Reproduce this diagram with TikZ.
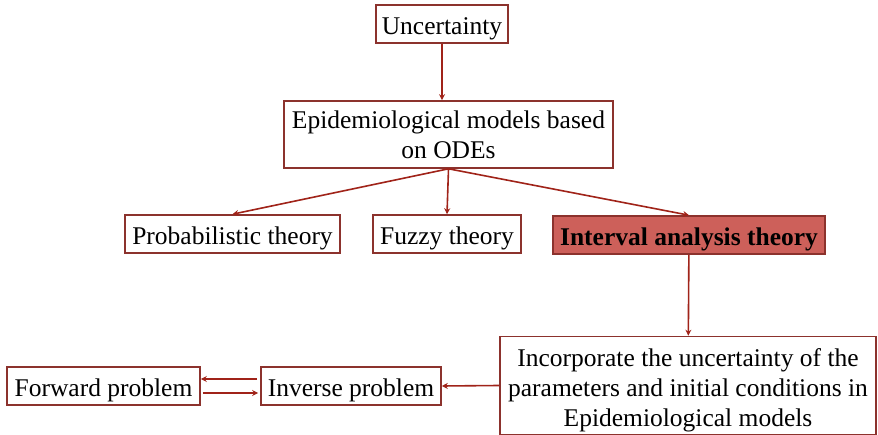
\documentclass[tikz,border=0pt]{standalone}
\usepackage{fontspec}
\setmainfont{Liberation Serif}
\usepackage{xcolor}
\usepackage{tikz}
\usetikzlibrary{
  positioning,
  arrows.meta
}
\definecolor{boxred}{RGB}{140,50,45}
\definecolor{arrred}{RGB}{160,35,25}
\definecolor{hifill}{RGB}{205,96,90}
% lower the text a little, keep the box where it is
\newcommand{\lowtext}[1]{\raisebox{-4.5pt}[\height][\depth]{#1}}

\begin{document}
\begin{tikzpicture}[
  x=1pt, y=1pt,
  >={Stealth[length=6pt,width=6pt]},
  font=\fontsize{25.5}{30}\selectfont,
  box/.style={draw=boxred, line width=1.6pt, fill=white, inner sep=0pt,
    minimum height=38pt},
  link/.style={->, draw=arrred, line width=1.6pt}
]
  \useasboundingbox (0,0) rectangle (878,-435);
  % top of the tree
  \node[box, minimum width=132pt] (unc) at (442,-24) {\lowtext{Uncertainty}};
  \node[box, minimum width=329pt, minimum height=67pt, align=center]
    (epi) at (448.5,-134.5) {Epidemiological models based\\on ODEs};
  % the three theories
  \node[box, minimum width=215pt] (prob) at (232.5,-234) {\lowtext{Probabilistic theory}};
  \node[box, minimum width=148pt] (fuzzy) at (447,-234) {\lowtext{Fuzzy theory}};
  \node[box, fill=hifill, minimum width=272pt, font=\fontsize{25.5}{30}\selectfont\bfseries]
    (intv) at (689,-235) {\lowtext{Interval analysis theory}};
  % bottom row
  \node[box, minimum width=376pt, minimum height=98pt]
    (incorp) at (688,-385.5)
    {\lowtext{\begin{tabular}{@{}c@{}}Incorporate the uncertainty of the\\
      parameters and initial conditions in\\Epidemiological models\end{tabular}}};
  \node[box, minimum width=180pt] (inv) at (351,-386) {\lowtext{Inverse problem}};
  \node[box, minimum width=193pt] (fwd) at (103.5,-386) {\lowtext{Forward problem}};

  \draw[link] (unc.south) -- (unc.south |- epi.north);
  \draw[link] (epi.south) -- (prob.north);
  \draw[link] (epi.south) -- (fuzzy.north);
  \draw[link] (epi.south) -- (intv.north);
  \draw[link] (intv) -- (incorp);
  \draw[link] (incorp.west) -- (inv.east);
  \draw[link, shorten <=3pt] ([yshift=7pt]inv.west) -- ([yshift=7pt]fwd.east);
  \draw[link, shorten <=2pt, shorten >=2pt] ([yshift=-7pt]fwd.east) -- ([yshift=-7pt]inv.west);
\end{tikzpicture}
\end{document}
